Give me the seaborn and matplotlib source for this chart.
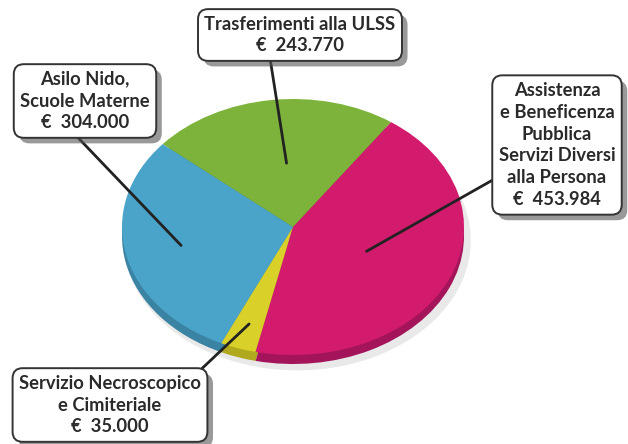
import numpy as np
import matplotlib
matplotlib.use("Agg")
import matplotlib.pyplot as plt
import matplotlib.patheffects as pe
import seaborn as sns

# spending items (euro)
labels = ["Trasferimenti alla ULSS",
          "Asilo Nido,\nScuole Materne",
          "Servizio Necroscopico\ne Cimiteriale",
          "Assistenza\ne Beneficenza\nPubblica\nServizi Diversi\nalla Persona"]
values = [243770, 304000, 35000, 453984]
value_text = ["€  243.770", "€  304.000", "€  35.000", "€  453.984"]

colors = ["#7db33a", "#4aa3c8", "#d9d12a", "#d31b6e"]
side_colors = ["#5f8a2a", "#3a83a3", "#b0a91e", "#a3145a"]

sns.set_theme(style="white")
plt.rcParams["font.family"] = ["Lato", "DejaVu Sans"]

fig = plt.figure(figsize=(6.28, 4.44), dpi=100)
ax = fig.add_axes([0, 0, 1, 1])

# pie geometry in pixels (x radius, y radius, centre)
rx, ry = 171, 128
cx, cy = 293, 444 - 227
depth = 9 / ry

# soft shadow under the pie
ax.pie(values, colors=["#d0d0d0"] * 4, startangle=55, counterclock=True,
       center=(0.025, -depth - 0.035), radius=1.015,
       wedgeprops=dict(linewidth=0, alpha=0.45))
# side (thickness) of the pie
ax.pie(values, colors=side_colors, startangle=55, counterclock=True,
       center=(0, -depth), wedgeprops=dict(linewidth=0))
wedges, _ = ax.pie(values, colors=colors, startangle=55, counterclock=True,
                   center=(0, 0), wedgeprops=dict(linewidth=0))

ax.set_aspect("auto")
ax.set_xlim(-cx / rx, (628 - cx) / rx)
ax.set_ylim(-cy / ry, (444 - cy) / ry)
ax.axis("off")

# label boxes (figure pixels, from bottom-left), leader-line radius and
# where the leader leaves the box
box_pos = [(300, 409), (85, 343), (110, 39), (557, 299)]
anchor_r = [0.5, 0.67, 0.8, 0.47]
rel = [(0.34, 0), (0.4, 0), (0.97, 1), (0, 0.25)]

for w, lab, vt, pos, r, rp in zip(wedges, labels, value_text, box_pos, anchor_r, rel):
    mid = np.deg2rad((w.theta1 + w.theta2) / 2 - 3 * (r == 0.5))
    xy = (r * np.cos(mid), r * np.sin(mid))
    t = ax.annotate(lab + "\n" + vt, xy=xy, xycoords="data",
                    xytext=pos, textcoords="figure pixels",
                    ha="center", va="center", fontsize=13.2, fontweight="bold",
                    color="#2a2a2a", linespacing=1.35,
                    bbox=dict(boxstyle="round,pad=0.35,rounding_size=0.55",
                              fc="white", ec="#333333", lw=1.4),
                    arrowprops=dict(arrowstyle="-", color="#222222", lw=2,
                                    shrinkA=0, shrinkB=0, relpos=rp))
    t.get_bbox_patch().set_path_effects(
        [pe.SimplePatchShadow(offset=(4, -4), shadow_rgbFace="#555555", alpha=0.6),
         pe.Normal()])

fig.savefig("out.png", dpi=100, facecolor="white")
